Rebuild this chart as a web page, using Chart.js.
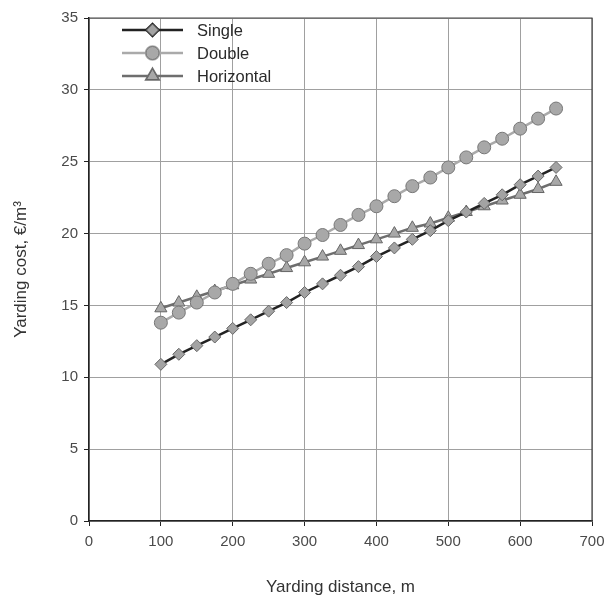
<!DOCTYPE html>
<html>
<head>
<meta charset="utf-8">
<script src="https://cdn.jsdelivr.net/npm/chart.js@4"></script>
<style>
  html, body { margin: 0; padding: 0; background: #fff; }
  #wrap { width: 605px; height: 602px; }
</style>
</head>
<body>
<div id="wrap"><canvas id="myChart" width="605" height="602"></canvas></div>
<script>
const distances = [100, 125, 150, 175, 200, 225, 250, 275, 300, 325, 350, 375, 400, 425, 450, 475, 500, 525, 550, 575, 600, 625, 650];
const single = [10.9, 11.6, 12.2, 12.8, 13.4, 14.0, 14.6, 15.2, 15.9, 16.5, 17.1, 17.7, 18.4, 19.0, 19.6, 20.2, 20.9, 21.5, 22.1, 22.7, 23.4, 24.0, 24.6];
const double = [13.8, 14.5, 15.2, 15.9, 16.5, 17.2, 17.9, 18.5, 19.3, 19.9, 20.6, 21.3, 21.9, 22.6, 23.3, 23.9, 24.6, 25.3, 26.0, 26.6, 27.3, 28.0, 28.7];
const horizontal = [14.8, 15.2, 15.6, 16.0, 16.4, 16.8, 17.2, 17.6, 18.0, 18.4, 18.8, 19.2, 19.6, 20.0, 20.4, 20.7, 21.1, 21.5, 21.9, 22.3, 22.7, 23.1, 23.6];

const FONT = '"Liberation Sans", Arial, sans-serif';

const toXY = (ys) => ys.map((y, i) => ({ x: distances[i], y: y }));

// legend drawn inside the plot, line + marker like the original
const insideLegend = {
    id: 'insideLegend',
    afterDraw(chart) {
        const ctx = chart.ctx;
        const a = chart.chartArea;
        ctx.save();
        // frame on top and right
        ctx.strokeStyle = '#444';
        ctx.lineWidth = 1.2;
        ctx.beginPath();
        ctx.moveTo(a.left, a.top);
        ctx.lineTo(a.right, a.top);
        ctx.lineTo(a.right, a.bottom);
        ctx.stroke();

        chart.data.datasets.forEach((ds, i) => {
            const y = 30 + i * 23;
            const x0 = 122, x1 = 183;
            ctx.strokeStyle = ds.borderColor;
            ctx.lineWidth = ds.borderWidth;
            ctx.beginPath();
            ctx.moveTo(x0, y);
            ctx.lineTo(x1, y);
            ctx.stroke();
            Chart.helpers.drawPoint(ctx, {
                pointStyle: ds.pointStyle,
                radius: ds.pointRadius,
                borderWidth: 1,
                rotation: 0
            }, (x0 + x1) / 2, y);
            ctx.fillStyle = ds.pointBackgroundColor;
            ctx.strokeStyle = ds.pointBorderColor;
            ctx.lineWidth = 1;
            ctx.fill();
            ctx.stroke();
            ctx.fillStyle = '#2a2a2a';
            ctx.font = '16.5px ' + FONT;
            ctx.textBaseline = 'middle';
            ctx.fillText(ds.label, 197, y + 1);
        });
        ctx.restore();
    }
};

const ctx = document.getElementById('myChart').getContext('2d');
const myChart = new Chart(ctx, {
    type: 'line',
    data: {
        datasets: [{
            label: 'Single',
            data: toXY(single),
            borderColor: '#222',
            borderWidth: 2.5,
            pointStyle: 'rectRot',
            pointRadius: 6,
            pointBackgroundColor: '#a3a3a3',
            pointBorderColor: '#666',
            pointBorderWidth: 1
        }, {
            label: 'Double',
            data: toXY(double),
            borderColor: '#aaa',
            borderWidth: 2.5,
            pointStyle: 'circle',
            pointRadius: 6.5,
            pointBackgroundColor: '#a8a8a8',
            pointBorderColor: '#777',
            pointBorderWidth: 1
        }, {
            label: 'Horizontal',
            data: toXY(horizontal),
            borderColor: '#6e6e6e',
            borderWidth: 2.5,
            pointStyle: 'triangle',
            pointRadius: 7,
            pointBackgroundColor: '#a8a8a8',
            pointBorderColor: '#666',
            pointBorderWidth: 1
        }]
    },
    options: {
        responsive: false,
        animation: false,
        layout: { padding: { top: 18, right: 13, left: 0, bottom: 0 } },
        plugins: {
            legend: { display: false },
            tooltip: { enabled: false }
        },
        scales: {
            x: {
                type: 'linear',
                min: 0,
                max: 700,
                ticks: { stepSize: 100, color: '#4a4a4a', font: { family: FONT, size: 15 }, padding: 7 },
                grid: { color: '#a0a0a0', lineWidth: 1, tickColor: '#222', tickLength: 5 },
                border: { color: '#222', width: 1.5 },
                title: { display: true, text: 'Yarding distance, m', color: '#333', font: { family: FONT, size: 17 }, padding: { top: 28 } },
                afterFit(scale) {
                    scale.height = 81;
                    scale.paddingRight = 0;
                    scale.paddingLeft = 0;
                }
            },
            y: {
                min: 0,
                max: 35,
                ticks: { stepSize: 5, color: '#4a4a4a', font: { family: FONT, size: 15 }, padding: 6 },
                grid: { color: '#a0a0a0', lineWidth: 1, tickColor: '#222', tickLength: 5 },
                border: { color: '#222', width: 1.5 },
                title: { display: true, text: 'Yarding cost, €/m³', color: '#333', font: { family: FONT, size: 17 }, padding: { top: 11, bottom: 20 } },
                afterFit(scale) {
                    scale.width = 89;
                    scale.paddingTop = 0;
                    scale.paddingBottom = 0;
                }
            }
        }
    },
    plugins: [insideLegend]
});
</script>
</body>
</html>
